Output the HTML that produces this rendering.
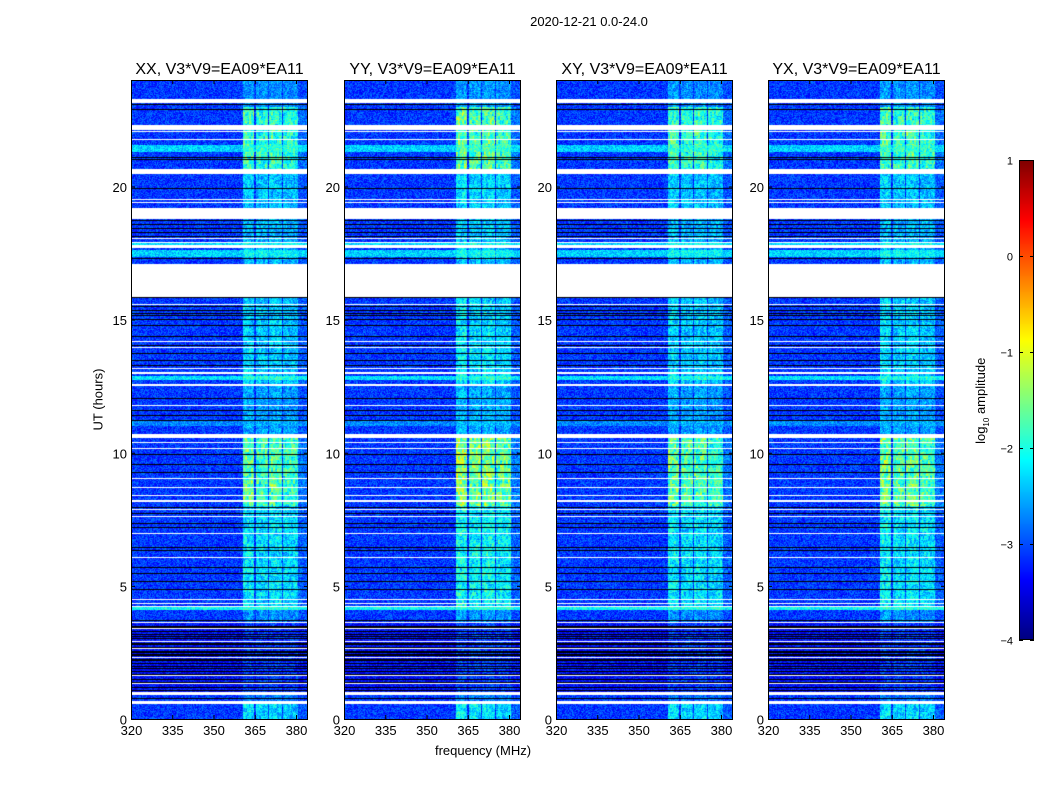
<!DOCTYPE html>
<html><head><meta charset="utf-8">
<style>
body{margin:0;background:#fff;}
#root{position:relative;width:1050px;height:800px;background:#fff;font-family:"Liberation Sans","DejaVu Sans",sans-serif;color:#000;overflow:hidden;}
.t{position:absolute;white-space:nowrap;}
canvas{position:absolute;}
</style></head>
<body>
<div id="root">
<div class="t" style="left:489px;top:14px;width:200px;text-align:center;font-size:13px;">2020-12-21 0.0-24.0</div>
<div class="t" style="left:48px;top:392px;width:100px;text-align:center;font-size:13px;transform:rotate(-90deg);">UT (hours)</div>
<div class="t" style="left:383px;top:743px;width:200px;text-align:center;font-size:13px;">frequency (MHz)</div>
<div class="t" style="left:922px;top:392px;width:120px;text-align:center;font-size:13px;transform:rotate(-90deg);">log<sub style="font-size:8px">10</sub> amplitude</div>
<svg id="ov" width="1050" height="800" style="position:absolute;left:0;top:0;pointer-events:none"></svg>
</div>
<script>
// ---- data ----
const panelNames = ["XX","YY","XY","YX"];
const panelGain = [1.0, 1.15, 1.0, 1.05];
const xTicks = [320,335,350,365,380];
const yTicks = [0,5,10,15,20];
const cbTicks = [1,0,-1,-2,-3,-4];
// frequency bands [fStart, fEnd, weight]
const bandStart = [360.6, 365.3, 370.3, 375.3, 380.8];
const bandEnd   = [364.9, 369.9, 374.9, 380.6, 384.5];
const bandWeight= [1.0, 0.9, 0.95, 0.85, 0.2];
// activity of band per time range [t0,t1,gain]
const actStart = [0, 0.55, 1.0, 3.6, 4.2, 8.0, 10.6, 12.6, 17.1, 18.9, 20.5, 23.0];
const actEnd   = [0.55, 1.0, 3.6, 4.2, 8.0, 10.6, 12.6, 15.85, 18.9, 20.5, 23.0, 24];
const actGain  = [0.9, 0.35, 0.3, 0.5, 1.0, 1.6, 0.6, 0.85, 0.7, 0.8, 1.4, 0.5];
// background level overrides [t0,t1,level]
const bgStart = [1.0, 21.3, 17.35, 17.8, 12.73, 4.1, 11.0];
const bgEnd   = [3.6, 21.55, 17.6, 17.9, 12.88, 4.2, 11.2];
const bgLevel = [-3.35, -2.35, -2.35, -2.3, -2.25, -2.1, -2.7];
// flagged (white) intervals
const whiteStart = [23.13,22.1,22.02,21.76,20.45,19.48,19.38,18.8,18.03,17.88,17.7,15.85,15.56,14.14,13.95,13.16,13.01,12.94,12.53,11.74,10.55,10.38,10.12,9.03,8.68,8.38,8.18,7.83,7.57,6.96,6.06,4.48,4.33,4.22,3.62,3.38,2.9,2.62,2.3,1.6,1.3,0.9,0.55];
const whiteEnd   = [23.28,22.3,22.07,21.8,20.65,19.52,19.42,19.2,18.08,17.92,17.8,17.1,15.6,14.18,13.99,13.2,13.05,12.98,12.6,11.78,10.7,10.42,10.16,9.07,8.72,8.42,8.24,7.87,7.61,7.0,6.1,4.52,4.37,4.26,3.66,3.42,2.94,2.66,2.34,1.64,1.34,1.0,0.66];
// black lines (hours)
const blackLines = [23.1,22.9,21.1,21.05,19.95,18.75,18.6,18.45,18.3,18.15,17.3,17.1,15.85,15.5,15.36,15.25,15.17,15.02,14.8,14.4,14.2,14.05,13.75,13.48,13.3,12.05,11.8,11.6,11.4,11.23,9.95,9.58,9.28,7.96,7.74,7.36,7.2,6.46,6.35,5.7,5.5,5.2,4.9,3.7,3.5,3.45,3.3,3.2,3.1,3.05,2.85,2.8,2.72,2.55,2.5,2.45,2.4,2.25,2.2,2.1,2.0,1.9,1.8,1.7,1.5,1.4,1.2,1.1,0.8];

// ---- layout ----
const panelLeft = [131,344,556,768];
const PW=177, PT=80, PH=639;
const pxPerMHz=2.75, f0=320, pxPerHour=PH/24;
const root=document.getElementById('root');
const ov=document.getElementById('ov');
const NS='http://www.w3.org/2000/svg';

function jet(v){
  const c=x=>Math.max(0,Math.min(1,x));
  const r=c(Math.min(4*v-1.5,-4*v+4.5)), g=c(Math.min(4*v-0.5,-4*v+3.5)), b=c(Math.min(4*v+0.5,-4*v+2.5));
  return [r*255|0,g*255|0,b*255|0];
}
function hash(x,y,p){let h=(x*374761393+y*668265263+p*1274126177)|0;h=(h^(h>>>13))*1274126177|0;return ((h^(h>>>16))>>>0)/4294967295;}
function xScale(f){return (f-f0)*pxPerMHz;}
function yScale(h){return (24-h)*pxPerHour;}
function lookup(s,e,vals,t,def){for(let i=0;i<s.length;i++){if(t>=s[i]&&t<e[i])return vals[i];}return def;}

function addText(txt,x,y,anchor,size,name){
  const t=document.createElementNS(NS,'text');
  t.setAttribute('x',x);t.setAttribute('y',y);t.setAttribute('text-anchor',anchor);
  t.setAttribute('font-size',size);t.setAttribute('font-family','Liberation Sans, DejaVu Sans, sans-serif');
  t.textContent=txt;
  
  
  ov.appendChild(t);
}
function addLine(x1,y1,x2,y2,name,w){
  const l=document.createElementNS(NS,'line');
  l.setAttribute('x1',x1);l.setAttribute('y1',y1);l.setAttribute('x2',x2);l.setAttribute('y2',y2);
  l.setAttribute('stroke','#000');l.setAttribute('stroke-width',w||1);
  
  
  ov.appendChild(l);
}

panelNames.forEach((pn,p)=>{
  const cv=document.createElement('canvas');
  cv.width=PW;cv.height=PH;
  cv.style.left=panelLeft[p]+'px';cv.style.top=PT+'px';
  
  
  root.insertBefore(cv,ov);
  const ctx=cv.getContext('2d');
  const img=ctx.createImageData(PW,PH);
  for(let y=0;y<PH;y++){
    const h=24-(y+0.5)/pxPerHour;
    const bgRaw=lookup(bgStart,bgEnd,bgLevel,h,null);
    const bg=bgRaw===null?-3.1:bgRaw;
    const act=lookup(actStart,actEnd,actGain,h,0)*panelGain[p]*(bgRaw!==null&&bgRaw>-3?0.4:1);
    for(let x=0;x<PW;x++){
      const f=f0+(x+0.5)/pxPerMHz;
      const bw=lookup(bandStart,bandEnd,bandWeight,f,0);
      let v=bg+act*bw*(0.6+0.6*hash(x>>1,y>>2,p+7))+(hash(x,y,p)-0.5)*0.7;
      let n=(v+4)/5;n=Math.max(0,Math.min(1,n));
      const c=jet(n),i=(y*PW+x)*4;
      img.data[i]=c[0];img.data[i+1]=c[1];img.data[i+2]=c[2];img.data[i+3]=255;
    }
  }
  ctx.putImageData(img,0,0);
  ctx.fillStyle='#000';
  blackLines.forEach(h=>{ctx.fillRect(0,Math.round(yScale(h)),PW,1);});
  ctx.fillStyle='#fff';
  whiteStart.forEach((s,i)=>{const y1=yScale(whiteEnd[i]),y2=yScale(s);ctx.fillRect(0,Math.round(y1),PW,Math.max(1,Math.round(y2-y1)));});
  const L=panelLeft[p];
  const r=document.createElementNS(NS,'rect');
  r.setAttribute('x',L+0.5);r.setAttribute('y',PT+0.5);r.setAttribute('width',PW-1);r.setAttribute('height',PH);
  r.setAttribute('fill','none');r.setAttribute('stroke','#000');
  
  
  ov.appendChild(r);
  addText(pn+', V3*V9=EA09*EA11',L+PW/2,74,'middle',16,'panel-title-'+pn.toLowerCase());
  xTicks.forEach(t=>{
    const x=L+xScale(t)+0.5;
    addLine(x,PT+PH,x,PT+PH-4,'x-tick');
    addLine(x,PT,x,PT+4,'x-tick-top');
    addText(String(t),x,PT+PH+16,'middle',13,'x-tick-label');
  });
  yTicks.forEach(t=>{
    const y=PT+yScale(t)+0.5;
    addLine(L,y,L+4,y,'y-tick');
    addLine(L+PW,y,L+PW-4,y,'y-tick-right');
    addText(String(t),L-4,y+5,'end',13,'y-tick-label');
  });
});

// colorbar
const cbx=1019,cby=160,cbw=15,cbh=480;
const cb=document.createElement('canvas');cb.width=cbw;cb.height=cbh;
cb.style.left=cbx+'px';cb.style.top=cby+'px';


root.insertBefore(cb,ov);
const cctx=cb.getContext('2d');
for(let y=0;y<cbh;y++){const c=jet(1-(y+0.5)/cbh);cctx.fillStyle=`rgb(${c[0]},${c[1]},${c[2]})`;cctx.fillRect(0,y,cbw,1);}
const cr=document.createElementNS(NS,'rect');
cr.setAttribute('x',cbx+0.5);cr.setAttribute('y',cby+0.5);cr.setAttribute('width',cbw-1);cr.setAttribute('height',cbh-1);
cr.setAttribute('fill','none');cr.setAttribute('stroke','#000');


ov.appendChild(cr);
cbTicks.forEach(t=>{
  const y=cby+(1-t)/5*cbh+0.5;
  addLine(cbx,y,cbx+4,y,'colorbar-tick');
  addLine(cbx+cbw,y,cbx+cbw-4,y,'colorbar-tick-right');
  addText(t<0?'\u2212'+(-t):String(t),cbx-6,y+4,'end',11,'colorbar-tick-label');
});
</script>
</body></html>
